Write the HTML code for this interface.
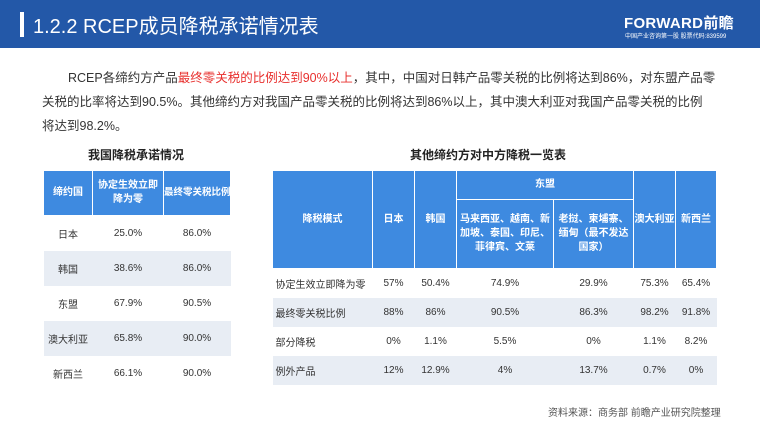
<!DOCTYPE html><html><head><meta charset="utf-8"><style>
*{margin:0;padding:0;box-sizing:border-box}
body{width:760px;height:427px;background:#fff;position:relative;overflow:hidden;font-family:"Liberation Sans","Noto Sans CJK SC",sans-serif;color:#222}
.hd{position:absolute;left:0;top:0;width:760px;height:48px;background:#2358a8}
.bar{position:absolute;left:20px;top:12px;width:4px;height:25px;background:#fff}
.tt{position:absolute;left:33px;top:10px;color:#fff;font-size:20px}
.logo{position:absolute;left:624px;top:12px;color:#fff;font-size:15px;font-weight:bold;letter-spacing:0.3px}
.sub{position:absolute;left:625px;top:31px;color:#fff;font-size:6px;white-space:nowrap}
.p{position:absolute;left:42px;top:66px;width:700px;font-size:12.5px;line-height:24px;color:#333;white-space:nowrap}
.red{color:#e8302e}
.cap{position:absolute;font-size:12px;font-weight:bold;color:#222}
table{position:absolute;border-collapse:collapse;font-size:10px;table-layout:fixed}
th{background:#3e8ae0;color:#fff;font-weight:bold;border:1px solid #fff;text-align:center;line-height:14px}
td{text-align:center;color:#333}
tr.s td{background:#e8edf4}
.src{position:absolute;left:548px;top:404px;font-size:10px;color:#555}
</style></head><body>
<div class="hd"><div class="bar"></div><div class="tt">1.2.2 RCEP成员降税承诺情况表</div><div class="logo">FORWARD前瞻</div><div class="sub">中国产业咨询第一股 股票代码:839599</div></div>
<div class="p"><span style="padding-left:26px">RCEP各缔约方产品</span><span class="red">最终零关税的比例达到90%以上</span>，其中，中国对日韩产品零关税的比例将达到86%，对东盟产品零<br>关税的比率将达到90.5%。其他缔约方对我国产品零关税的比例将达到86%以上，其中澳大利亚对我国产品零关税的比例<br>将达到98.2%。</div>
<div class="cap" style="left:88px;top:146px">我国降税承诺情况</div>
<div class="cap" style="left:410px;top:146px">其他缔约方对中方降税一览表</div>
<table style="left:43px;top:170px;width:187px">
<colgroup><col style="width:49px"><col style="width:71px"><col style="width:67px"></colgroup>
<tr style="height:45px"><th>缔约国</th><th>协定生效立即<br>降为零</th><th style="font-size:9.5px;white-space:nowrap">最终零关税比例</th></tr>
<tr style="height:35px"><td>日本</td><td>25.0%</td><td>86.0%</td></tr>
<tr class="s" style="height:35px"><td>韩国</td><td>38.6%</td><td>86.0%</td></tr>
<tr style="height:35px"><td>东盟</td><td>67.9%</td><td>90.5%</td></tr>
<tr class="s" style="height:35px"><td>澳大利亚</td><td>65.8%</td><td>90.0%</td></tr>
<tr style="height:35px"><td>新西兰</td><td>66.1%</td><td>90.0%</td></tr>
</table>
<table style="left:272px;top:170px;width:444px">
<colgroup><col style="width:100px"><col style="width:42px"><col style="width:42px"><col style="width:97px"><col style="width:80px"><col style="width:42px"><col style="width:41px"></colgroup>
<tr style="height:29px"><th rowspan="2">降税模式</th><th rowspan="2">日本</th><th rowspan="2">韩国</th><th colspan="2">东盟</th><th rowspan="2">澳大利亚</th><th rowspan="2">新西兰</th></tr>
<tr style="height:69px"><th>马来西亚、越南、新加坡、泰国、印尼、菲律宾、文莱</th><th>老挝、柬埔寨、缅甸（最不发达国家）</th></tr>
<tr style="height:29px"><td style="text-align:left;padding-left:3px">协定生效立即降为零</td><td>57%</td><td>50.4%</td><td>74.9%</td><td>29.9%</td><td>75.3%</td><td>65.4%</td></tr>
<tr class="s" style="height:29px"><td style="text-align:left;padding-left:3px">最终零关税比例</td><td>88%</td><td>86%</td><td>90.5%</td><td>86.3%</td><td>98.2%</td><td>91.8%</td></tr>
<tr style="height:29px"><td style="text-align:left;padding-left:3px">部分降税</td><td>0%</td><td>1.1%</td><td>5.5%</td><td>0%</td><td>1.1%</td><td>8.2%</td></tr>
<tr class="s" style="height:29px"><td style="text-align:left;padding-left:3px">例外产品</td><td>12%</td><td>12.9%</td><td>4%</td><td>13.7%</td><td>0.7%</td><td>0%</td></tr>
</table>
<div class="src">资料来源：商务部 前瞻产业研究院整理</div>
</body></html>
